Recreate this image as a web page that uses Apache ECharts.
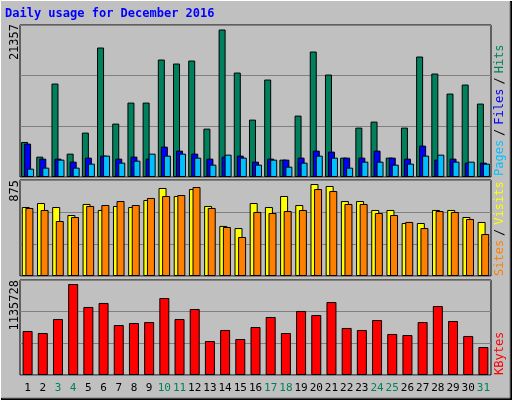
<!DOCTYPE html>
<html><head><meta charset="utf-8">
<script src="https://cdn.jsdelivr.net/npm/echarts@6/dist/echarts.min.js"></script>
<style>html,body{margin:0;padding:0;background:#C0C0C0}#c{width:512px;height:400px}</style>
</head><body><div id="c"></div>
<script>
const days = ['1','2','3','4','5','6','7','8','9','10','11','12','13','14','15','16','17','18','19','20','21','22','23','24','25','26','27','28','29','30','31'];
const weekend = [3,4,10,11,17,18,24,25,31];
const hits = [5073,2947,13530,3382,6427,18748,7731,10775,10775,17009,16429,16864,7006,21357,15124,8311,14110,2513,8891,18168,14834,2803,7151,8021,2803,7151,17443,14979,12080,13385,10630];
const files = [4832,2658,2658,2223,2803,3092,2658,2947,2658,4397,3817,3382,2658,2947,3092,2223,2658,2513,2803,3817,3672,2803,2803,3817,2803,2658,4542,2513,2658,2078,2078];
const pages = [1208,1353,2513,1353,1933,3092,2078,2368,3382,3092,3382,2803,1788,3237,2803,1788,2513,1498,2078,3092,2803,1353,2223,2223,1788,1933,3092,3237,2223,2223,1933];
const visits = [656,694,656,580,685,628,666,656,723,837,761,827,666,476,456,694,656,761,675,875,856,713,713,628,628,504,504,628,628,561,514];
const sites = [647,628,523,561,666,675,713,675,742,761,770,846,647,466,371,609,599,618,628,827,808,685,685,599,580,514,456,618,609,542,399];
const kbytes = [549000,524000,699000,1135728,849000,899000,624000,649000,661000,961000,699000,824000,424000,562000,449000,599000,724000,524000,799000,749000,911000,587000,562000,686000,512000,499000,661000,861000,674000,487000,349000];
const maxLabels = ['21357','875','1135728'];

const FONT = 'DejaVu Sans Mono';
const chart = echarts.init(document.getElementById('c'));
const gl = 20, gr = 21;
const grids = [
  {left:gl,right:gr,top:25,height:152},
  {left:gl,right:gr,top:180,height:96},
  {left:gl,right:gr,top:280,height:95}
].map(g=>Object.assign(g,{show:true,backgroundColor:'#C0C0C0',borderColor:'#000',borderWidth:1}));
const maxes = [21357*151.9/147.4, 875*96/92, 1135728*95/91];
const xAxes = [0,1,2].map(i=>({
  type:'category',data:days,gridIndex:i,
  axisLine:{show:false},axisTick:{show:false},
  axisLabel:{show:i===2,interval:0,fontFamily:FONT,fontSize:11,margin:8,
    color:(v)=>weekend.includes(+v)?'#00805C':'#000'}
}));
const yAxes = [0,1,2].map(i=>({
  type:'value',gridIndex:i,min:0,max:maxes[i],interval:maxes[i]/3,
  axisLabel:{show:false},axisLine:{show:false},axisTick:{show:false},
  splitLine:{show:true,lineStyle:{color:'#808080',width:1}}
}));
const bs = {borderColor:'#000',borderWidth:1};
function bar(name,data,color,gi,w,gap){
  return {type:'bar',name,data,xAxisIndex:gi,yAxisIndex:gi,barWidth:w,barGap:gap,
    itemStyle:Object.assign({color},bs),animation:false};
}
const series = [
  bar('Hits',hits,'#00805C',0,7,'-57%'),
  bar('Files',files,'#0000FF',0,7,'-57%'),
  bar('Pages',pages,'#00C0FF',0,7,'-57%'),
  bar('Visits',visits,'#FFFF00',1,8,'-55%'),
  bar('Sites',sites,'#FF8000',1,8,'-55%'),
  bar('KBytes',kbytes,'#FF0000',2,10,'0%')
];
const tstyle = {fontFamily:FONT,fontSize:12};
const R = Math.PI/2;
const graphic = [
  {type:'rect',shape:{x:0.5,y:0.5,width:511,height:399},style:{fill:'none',stroke:'#FFFFFF',lineWidth:1},z:-1},
  {type:'polyline',shape:{points:[[1,399],[511,399],[511,1]]},style:{stroke:'#000',lineWidth:2,fill:'none'}},
  {type:'polyline',shape:{points:[[2,398],[510,398],[510,2]]},style:{stroke:'#808080',lineWidth:1,fill:'none'}},
  {type:'text',left:5,top:8,style:Object.assign({text:'Daily usage for December 2016',fill:'#0000FF',fontWeight:'bold'},tstyle)},
  {type:'text',x:15,y:24,rotation:R,style:Object.assign({text:maxLabels[0],fill:'#000',align:'right',verticalAlign:'middle'},tstyle)},
  {type:'text',x:15,y:180,rotation:R,style:Object.assign({text:maxLabels[1],fill:'#000',align:'right',verticalAlign:'middle'},tstyle)},
  {type:'text',x:15,y:280,rotation:R,style:Object.assign({text:maxLabels[2],fill:'#000',align:'right',verticalAlign:'middle'},tstyle)},
  {type:'text',x:500,y:176,rotation:R,style:Object.assign({text:'{p|Pages}{s|/}{f|Files}{s|/}{h|Hits}',align:'left',verticalAlign:'middle',
    rich:{p:Object.assign({fill:'#00C0FF'},tstyle),f:Object.assign({fill:'#0000FF'},tstyle),h:Object.assign({fill:'#00805C'},tstyle),s:Object.assign({fill:'#000',padding:[0,4]},tstyle)}},tstyle)},
  {type:'text',x:500,y:276,rotation:R,style:Object.assign({text:'{a|Sites}{s|/}{b|Visits}',align:'left',verticalAlign:'middle',
    rich:{a:Object.assign({fill:'#FF8000'},tstyle),b:Object.assign({fill:'#FFFF00'},tstyle),s:Object.assign({fill:'#000',padding:[0,4]},tstyle)}},tstyle)},
  {type:'text',x:500,y:375,rotation:R,style:Object.assign({text:'KBytes',fill:'#FF0000',align:'left',verticalAlign:'middle'},tstyle)}
];
chart.setOption({backgroundColor:'#C0C0C0',animation:false,grid:grids,xAxis:xAxes,yAxis:yAxes,series,graphic});
</script></body></html>
